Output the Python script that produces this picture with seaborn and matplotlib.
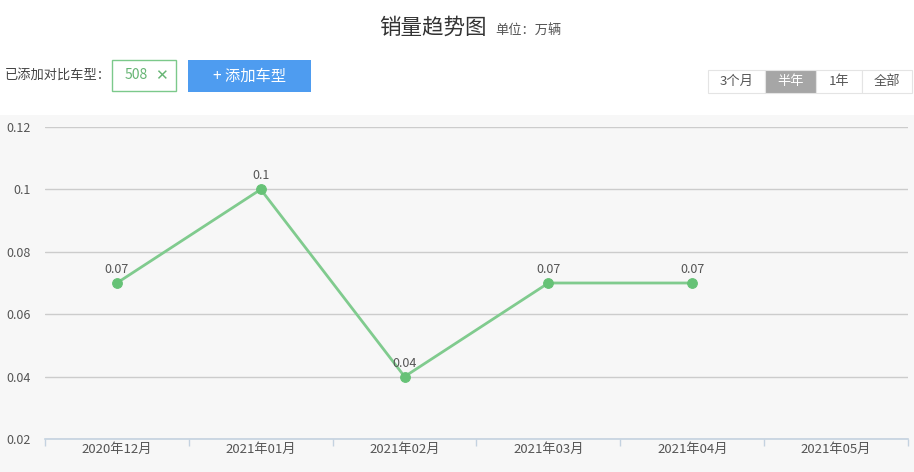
import numpy as np
import pandas as pd
import matplotlib
matplotlib.use("Agg")
import matplotlib.pyplot as plt
import seaborn as sns
from matplotlib.patches import Rectangle

# data
months = ["2020年12月", "2021年01月", "2021年02月", "2021年03月", "2021年04月", "2021年05月"]
sales = [0.07, 0.1, 0.04, 0.07, 0.07, np.nan]
y_ticks = [0.02, 0.04, 0.06, 0.08, 0.1, 0.12]
y_tick_labels = ["0.02", "0.04", "0.06", "0.08", "0.1", "0.12"]
ranges = ["3个月", "半年", "1年", "全部"]

sns.set_theme(style="white")
plt.rcParams['font.family'] = ['Noto Sans CJK SC', 'DejaVu Sans']

W, H = 914, 472
fig = plt.figure(figsize=(W / 100, H / 100), dpi=100)
fig.patch.set_facecolor("white")

def px(x, y):
    # pixel coords (top-left origin) -> figure fraction
    return x / W, 1 - y / H

# grey chart background (behind the axes)
fig.patches.append(Rectangle(px(0, 472), 1, (472 - 115) / H, transform=fig.transFigure,
                             facecolor="#f7f7f7", edgecolor="none", zorder=-5))

ax = fig.add_axes([45 / W, 33 / H, 863 / W, 312 / H])
ax.set_facecolor("none")

df = pd.DataFrame({"pos": range(len(months)), "month": months, "sales": sales})
sns.lineplot(data=df.dropna(), x="pos", y="sales", ax=ax, color="#80cb8e", linewidth=2,
             marker="o", markersize=7, markerfacecolor="#66c276", markeredgecolor="#66c276", zorder=3)

for i, v in enumerate(sales):
    if not np.isnan(v):
        ax.annotate(f"{v:g}", (i, v), xytext=(0, 5), textcoords="offset points",
                    ha="center", va="bottom", fontsize=9, color="#555555")

ax.set_xlim(-0.5, len(months) - 0.5)
ax.set_ylim(0.02, 0.12)
ax.set_yticks(y_ticks)
ax.set_yticklabels(y_tick_labels, fontsize=9, color="#555555")
ax.set_xticks(range(len(months)))
ax.set_xticklabels(months, fontsize=9.5, color="#555555")
ax.set_xticks(np.arange(-0.5, len(months)), minor=True)
ax.tick_params(axis="x", which="major", length=0, pad=3)
ax.tick_params(axis="x", which="minor", bottom=True, length=5, width=1, color="#c4d2e0", direction="out")
ax.tick_params(axis="y", length=0, pad=10)
ax.yaxis.grid(True, color="#cccccc", linewidth=1)
ax.set_axisbelow(True)
ax.set_xlabel("")
ax.set_ylabel("")
for s in ["top", "right", "left"]:
    ax.spines[s].set_visible(False)
ax.spines["bottom"].set_color("#c4d2e0")
ax.spines["bottom"].set_linewidth(1.2)

# title
fig.text(*px(433, 28), "销量趋势图", fontsize=15.5, color="#333333", ha="center", va="center")
fig.text(*px(495, 30), "单位：万辆", fontsize=9.5, color="#555555", ha="left", va="center")

# compare controls
fig.text(*px(5, 75), "已添加对比车型：", fontsize=9.5, color="#444444", ha="left", va="center")
fig.patches.append(Rectangle(px(112, 91), 64 / W, 31 / H, transform=fig.transFigure,
                             facecolor="white", edgecolor="#7cc98b", linewidth=1))
fig.text(*px(136, 75), "508", fontsize=10, color="#66b574", ha="center", va="center")
fig.text(*px(161, 76), "✕", fontsize=11, color="#66b574", ha="center", va="center", family="DejaVu Sans")
fig.patches.append(Rectangle(px(188, 92), 123 / W, 32 / H, transform=fig.transFigure,
                             facecolor="#4e9cf0", edgecolor="none"))
fig.text(*px(250, 76), "+ 添加车型", fontsize=11, color="white", ha="center", va="center")

# range selector
seg_x = [708, 765, 816, 862, 912]
for i, label in enumerate(ranges):
    x0, x1 = seg_x[i], seg_x[i + 1]
    active = label == "半年"
    fig.patches.append(Rectangle(px(x0, 93), (x1 - x0) / W, 23 / H, transform=fig.transFigure,
                                 facecolor="#a6a6a6" if active else "white",
                                 edgecolor="#e4e4e4", linewidth=0.8))
    fig.text(*px((x0 + x1) / 2, 81.5), label, fontsize=9.5,
             color="white" if active else "#555555", ha="center", va="center")

fig.savefig("out.png", dpi=100)
